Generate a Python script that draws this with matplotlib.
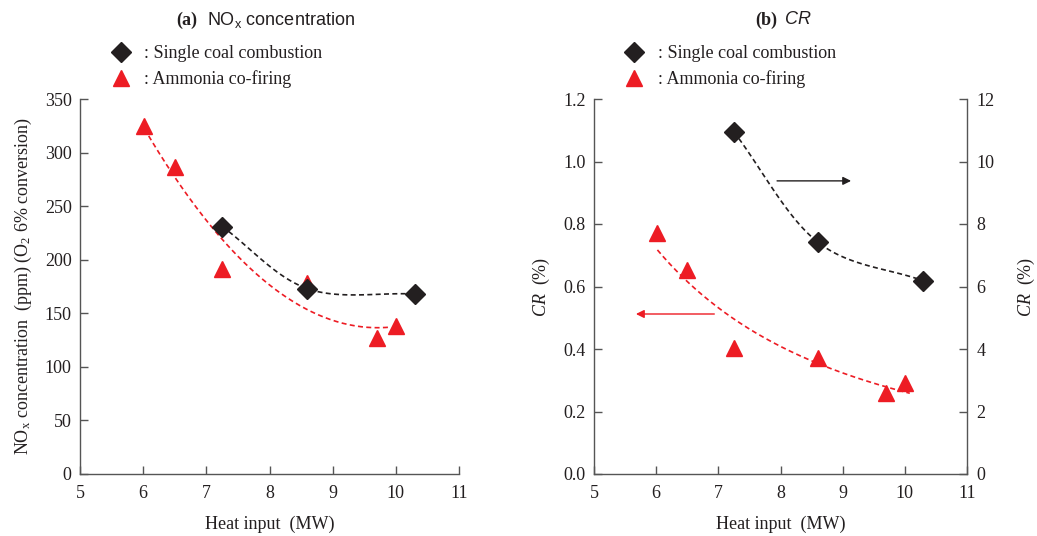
import numpy as np
import matplotlib
matplotlib.use("Agg")
import matplotlib.pyplot as plt
from matplotlib.lines import Line2D

plt.rcParams['font.family'] = ['Liberation Serif', 'DejaVu Serif']
plt.rcParams['mathtext.fontset'] = 'custom'
plt.rcParams['mathtext.rm'] = 'Liberation Serif'
plt.rcParams['mathtext.it'] = 'Liberation Serif:italic'
plt.rcParams['mathtext.sf'] = 'Liberation Sans'
plt.rcParams['font.size'] = 13

RED = '#ED1C24'
BLACK = '#231F20'
AXC = '#555555'

# (a) NOx concentration vs heat input
nox_coal_x = [7.25, 8.6, 10.3]
nox_coal_y = [231, 173, 168]
nox_nh3_x = [6.02, 6.5, 7.25, 8.6, 9.7, 10.0]
nox_nh3_y = [325, 287, 191, 178, 127, 138]

# (b) CR vs heat input (coal on right axis, ammonia on left axis)
cr_coal_x = [7.25, 8.6, 10.3]
cr_coal_y = [10.95, 7.42, 6.18]
cr_nh3_x = [6.02, 6.5, 7.25, 8.6, 9.7, 10.0]
cr_nh3_y = [0.771, 0.653, 0.403, 0.371, 0.259, 0.291]

x_ticks = [5, 6, 7, 8, 9, 10, 11]
XLIM = (5, 11)

W, H = 1037, 536
fig = plt.figure(figsize=(W / 100, H / 100), dpi=100)
ax1 = fig.add_axes([80 / W, 1 - 474 / H, 379 / W, 375 / H])
ax2 = fig.add_axes([594 / W, 1 - 474 / H, 373 / W, 375 / H])
ax2r = ax2.twinx()

DASH = (0, (3, 2))


def style(ax, sides):
    for s in ['left', 'right', 'top', 'bottom']:
        ax.spines[s].set_visible(s in sides)
        ax.spines[s].set_color(AXC)
        ax.spines[s].set_linewidth(1.0)
    ax.tick_params(direction='in', length=6, width=1.0, color=AXC,
                   labelcolor=BLACK, labelsize=13, pad=8)


def smooth_line(ax, xs, ys, ylim, color, n=60):
    # Catmull-Rom curve through the points, computed in axes-fraction space
    u = (np.asarray(xs, float) - XLIM[0]) / (XLIM[1] - XLIM[0])
    v = np.asarray(ys, float) / ylim
    P = np.column_stack([u, v])
    P = np.vstack([2 * P[0] - P[1], P, 2 * P[-1] - P[-2]])
    t = np.linspace(0, 1, n)[:, None]
    pts = []
    for i in range(1, len(P) - 2):
        p0, p1, p2, p3 = P[i - 1], P[i], P[i + 1], P[i + 2]
        seg = 0.5 * (2 * p1 + (-p0 + p2) * t
                     + (2 * p0 - 5 * p1 + 4 * p2 - p3) * t ** 2
                     + (-p0 + 3 * p1 - 3 * p2 + p3) * t ** 3)
        pts.append(seg)
    pts = np.vstack(pts)
    ax.plot(XLIM[0] + pts[:, 0] * (XLIM[1] - XLIM[0]), pts[:, 1] * ylim,
            color=color, lw=1.2, linestyle=DASH, zorder=2)


def poly_trend(ax, xs, ys, color, x0, x1):
    c = np.polyfit(xs, ys, 2)
    xx = np.linspace(x0, x1, 200)
    ax.plot(xx, np.polyval(c, xx), color=color, lw=1.2, linestyle=DASH,
            zorder=2)


def power_trend(ax, xs, ys, color, x0, x1):
    b, a = np.polyfit(np.log(xs), np.log(ys), 1)
    xx = np.linspace(x0, x1, 200)
    ax.plot(xx, np.exp(a) * xx ** b, color=color, lw=1.2, linestyle=DASH,
            zorder=2)


dia = dict(marker='D', color=BLACK, ms=10, linestyle='none', zorder=3)
tri = dict(marker='^', color=RED, ms=12, linestyle='none', zorder=3)

# panel (a)
smooth_line(ax1, nox_coal_x, nox_coal_y, 350, BLACK)
poly_trend(ax1, nox_nh3_x, nox_nh3_y, RED, 6.02, 9.9)
ax1.plot(nox_nh3_x, nox_nh3_y, **tri)
ax1.plot(nox_coal_x, nox_coal_y, **dia)
ax1.set_xlim(*XLIM)
ax1.set_ylim(0, 350)
ax1.set_xticks(x_ticks)
ax1.set_yticks(range(0, 351, 50))
style(ax1, ['left', 'bottom'])
ax1.tick_params(axis='y', pad=6)
ax1.set_xlabel('Heat input  (MW)', color=BLACK, labelpad=10)
ax1.set_ylabel(r'NO$_\mathrm{x}$ concentration  (ppm) (O$_2$ 6% conversion)',
               color=BLACK, labelpad=8)

# panel (b)
power_trend(ax2, cr_nh3_x, cr_nh3_y, RED, 6.02, 10.08)
smooth_line(ax2r, cr_coal_x, cr_coal_y, 12, BLACK)
ax2.plot(cr_nh3_x, cr_nh3_y, **tri)
ax2r.plot(cr_coal_x, cr_coal_y, **dia)
ax2.set_xlim(*XLIM)
ax2.set_ylim(0, 1.2)
ax2r.set_ylim(0, 12)
ax2.set_xticks(x_ticks)
ax2.set_yticks(np.arange(0, 1.21, 0.2))
ax2.set_yticklabels([f'{v:.1f}' for v in np.arange(0, 1.21, 0.2)])
ax2r.set_yticks(range(0, 13, 2))
style(ax2, ['left', 'bottom'])
style(ax2r, ['right'])
ax2.tick_params(axis='y', pad=6)
ax2r.tick_params(axis='y', pad=7)
ax2.set_xlabel('Heat input  (MW)', color=BLACK, labelpad=10)
ax2.set_ylabel(r'$\mathit{CR}$  (%)', color=BLACK, labelpad=8)
ax2r.set_ylabel(r'$\mathit{CR}$  (%)', color=BLACK, labelpad=15)

# arrows pointing to the axis each series belongs to
ax2r.annotate('', xy=(9.18, 9.38), xytext=(7.9, 9.38),
              arrowprops=dict(arrowstyle='-|>', color=BLACK, lw=1.0,
                              mutation_scale=12))
ax2.annotate('', xy=(5.63, 0.512), xytext=(6.98, 0.512),
             arrowprops=dict(arrowstyle='-|>', color=RED, lw=1.0,
                             mutation_scale=12))

# legends
handles = [Line2D([], [], marker='D', color=BLACK, ms=10, linestyle='none'),
           Line2D([], [], marker='^', color=RED, ms=12, linestyle='none')]
labels = [': Single coal combustion', ': Ammonia co-firing']
for ax in (ax1, ax2):
    leg = ax.legend(handles, labels, loc='lower left',
                    bbox_to_anchor=(0.065, 1.01), frameon=False,
                    handlelength=1.0, handletextpad=0.8, labelspacing=0.45,
                    borderaxespad=0, fontsize=13)
    for t in leg.get_texts():
        t.set_color(BLACK)

# panel titles
ty = 1 - 20 / H
fig.text(197 / W, ty, '(a)', ha='right', va='center', fontweight='bold',
         fontsize=13, color=BLACK)
fig.text(207 / W, ty, r'$\mathsf{NO_x}$ concentration', ha='left', va='center',
         family='Liberation Sans', fontsize=13, color=BLACK)
fig.text(777 / W, ty, '(b)', ha='right', va='center', fontweight='bold',
         fontsize=13, color=BLACK)
fig.text(785 / W, ty, 'CR', ha='left', va='center', family='Liberation Sans',
         fontstyle='italic', fontsize=13, color=BLACK)

fig.savefig('out.png', dpi=100)
